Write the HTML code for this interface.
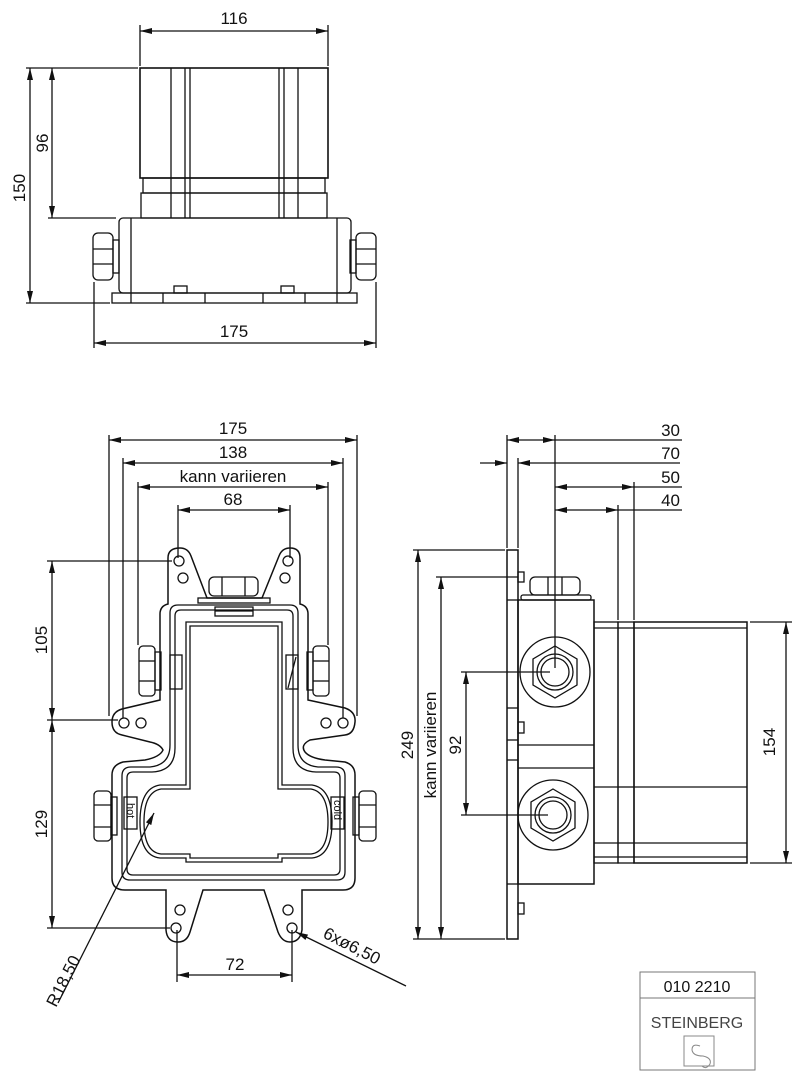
<!DOCTYPE html>
<html><head><meta charset="utf-8"><style>
html,body{margin:0;padding:0;background:#fff}
svg{display:block}
text{font-family:"Liberation Sans",sans-serif;font-size:17px;fill:#111}
</style></head><body>
<svg width="799" height="1080" viewBox="0 0 799 1080" xmlns="http://www.w3.org/2000/svg">
<defs>
<marker id="a" viewBox="0 0 12 6" refX="12" refY="3" markerWidth="12" markerHeight="6" orient="auto-start-reverse" markerUnits="userSpaceOnUse"><path d="M0,0 L12,3 L0,6 Z" fill="#111"/></marker>
</defs>
<g stroke="#111" stroke-width="1.3" fill="none">
<line x1="140" y1="25" x2="140" y2="66"/><line x1="328" y1="25" x2="328" y2="66"/>
<line x1="140" y1="31" x2="328" y2="31" marker-start="url(#a)" marker-end="url(#a)"/>
<line x1="26" y1="68" x2="138" y2="68"/>
<line x1="48" y1="218" x2="116" y2="218"/>
<line x1="26" y1="303" x2="110" y2="303"/>
<line x1="52" y1="68" x2="52" y2="218" marker-start="url(#a)" marker-end="url(#a)"/>
<line x1="30" y1="68" x2="30" y2="303" marker-start="url(#a)" marker-end="url(#a)"/>
<line x1="94" y1="282" x2="94" y2="348"/><line x1="376" y1="282" x2="376" y2="348"/>
<line x1="94" y1="343" x2="376" y2="343" marker-start="url(#a)" marker-end="url(#a)"/>
<rect x="140" y="68" width="188" height="110" stroke-width="1.6"/>
<line x1="171" y1="68" x2="171" y2="218"/><line x1="185" y1="68" x2="185" y2="218"/><line x1="190" y1="68" x2="190" y2="218"/>
<line x1="279" y1="68" x2="279" y2="218"/><line x1="284" y1="68" x2="284" y2="218"/><line x1="298" y1="68" x2="298" y2="218"/>
<rect x="143" y="178" width="182" height="15"/>
<rect x="141" y="193" width="186" height="25"/>
<rect x="119" y="218" width="232" height="75" rx="4"/>
<line x1="131" y1="218" x2="131" y2="293"/><line x1="337" y1="218" x2="337" y2="293"/>
<rect x="112" y="293" width="245" height="10"/>
<line x1="131" y1="293" x2="131" y2="303"/><line x1="163" y1="293" x2="163" y2="303"/><line x1="205" y1="293" x2="205" y2="303"/><line x1="263" y1="293" x2="263" y2="303"/><line x1="305" y1="293" x2="305" y2="303"/><line x1="337" y1="293" x2="337" y2="303"/>
<rect x="174" y="286" width="13" height="7"/><rect x="281" y="286" width="13" height="7"/>
<rect x="93" y="233" width="20" height="47" rx="5"/><line x1="93" y1="249" x2="113" y2="249"/><line x1="93" y1="264" x2="113" y2="264"/><rect x="113" y="240" width="6" height="33"/>
<rect x="356" y="233" width="20" height="47" rx="5"/><line x1="356" y1="249" x2="376" y2="249"/><line x1="356" y1="264" x2="376" y2="264"/><rect x="350" y="240" width="6" height="33"/>

<line x1="109" y1="435" x2="109" y2="716"/><line x1="357" y1="435" x2="357" y2="716"/>
<line x1="109" y1="440" x2="357" y2="440" marker-start="url(#a)" marker-end="url(#a)"/>
<line x1="123" y1="458" x2="123" y2="718"/><line x1="343" y1="458" x2="343" y2="718"/>
<line x1="123" y1="463" x2="343" y2="463" marker-start="url(#a)" marker-end="url(#a)"/>
<line x1="138" y1="482" x2="138" y2="645"/><line x1="328" y1="482" x2="328" y2="645"/>
<line x1="138" y1="487" x2="328" y2="487" marker-start="url(#a)" marker-end="url(#a)"/>
<line x1="178" y1="505" x2="178" y2="558"/><line x1="290" y1="505" x2="290" y2="558"/>
<line x1="178" y1="510" x2="290" y2="510" marker-start="url(#a)" marker-end="url(#a)"/>
<line x1="47" y1="561" x2="172" y2="561"/><line x1="47" y1="720" x2="118" y2="720"/><line x1="47" y1="928" x2="170" y2="928"/>
<line x1="52" y1="561" x2="52" y2="720" marker-start="url(#a)" marker-end="url(#a)"/>
<line x1="52" y1="720" x2="52" y2="928" marker-start="url(#a)" marker-end="url(#a)"/>
<line x1="177" y1="930" x2="177" y2="982"/><line x1="292" y1="930" x2="292" y2="982"/>
<line x1="177" y1="975" x2="292" y2="975" marker-start="url(#a)" marker-end="url(#a)"/>
<line x1="58" y1="1003" x2="154" y2="813" marker-end="url(#a)"/>
<line x1="406" y1="986" x2="296" y2="932" marker-end="url(#a)"/>
<path stroke-width="1.5" d="M168,604 L168,558 Q168,548 180,548 Q188,548 191,556 L207,598 L262,598 L279,556 Q282,548 290,548 Q300,548 300,558 L300,604 Q308,606 308,614 L308,700 L345,708 Q356,712 355,722 Q354,734 345,735 L310,740 Q300,745 305,752 Q310,758 325,760 L345,762 Q355,765 355,775 L355,878 Q355,890 343,890 L302,890 L302,930 Q300,942 290,942 Q282,942 278,932 L264,890 L203,890 L190,932 Q187,942 178,942 Q167,942 166,930 L166,890 L125,890 Q112,890 112,878 L112,775 Q112,765 123,762 L145,760 Q160,757 163,750 Q160,744 150,742 L122,735 Q112,733 112,722 Q112,712 122,709 L160,700 L160,614 Q160,606 168,604 Z"/>
<path d="M178,605 L290,605 Q298,605 298,613 L298,745 Q298,765 318,767 L336,767 Q345,767 345,776 L345,872 Q345,880 337,880 L130,880 Q122,880 122,872 L122,776 Q122,767 131,767 L150,767 Q170,765 170,745 L170,613 Q170,605 178,605 Z"/>
<path d="M181,610 L287,610 Q293,610 293,616 L293,748 Q293,771 316,772 L334,772 Q340,772 340,778 L340,869 Q340,875 334,875 L133,875 Q127,875 127,869 L127,778 Q127,772 133,772 L152,772 Q175,771 175,748 L175,616 Q175,610 181,610 Z"/>
<path d="M186,622 L282,622 L282,785 L312,785 Q332,788 332,822 Q332,856 312,858 L282,858 L282,862 L186,862 L186,858 L160,858 Q140,856 140,822 Q140,788 160,785 L186,785 Z"/>
<path d="M190,626 L278,626 L278,789 L311,789 Q328,792 328,822 Q328,852 311,854 L278,854 L278,858 L190,858 L190,854 L161,854 Q144,852 144,822 Q144,792 161,789 L190,789 Z"/>
<circle cx="179" cy="561" r="5"/><circle cx="183" cy="578" r="5"/><circle cx="288" cy="561" r="5"/><circle cx="285" cy="578" r="5"/>
<circle cx="124" cy="723" r="5"/><circle cx="141" cy="723" r="5"/><circle cx="326" cy="723" r="5"/><circle cx="343" cy="723" r="5"/>
<circle cx="180" cy="910" r="5"/><circle cx="176" cy="928" r="5"/><circle cx="288" cy="910" r="5"/><circle cx="292" cy="928" r="5"/>
<rect x="209" y="577" width="49" height="19" rx="5"/><line x1="222" y1="577" x2="222" y2="596"/><line x1="245" y1="577" x2="245" y2="596"/>
<rect x="198" y="598" width="72" height="5"/>
<rect x="215" y="607" width="38" height="9"/><line x1="215" y1="611" x2="253" y2="611"/>
<rect x="139" y="646" width="16" height="50" rx="4"/><line x1="139" y1="661" x2="155" y2="661"/><line x1="139" y1="681" x2="155" y2="681"/><rect x="155" y="652" width="6" height="38"/>
<rect x="313" y="646" width="16" height="50" rx="4"/><line x1="313" y1="661" x2="329" y2="661"/><line x1="313" y1="681" x2="329" y2="681"/><rect x="307" y="652" width="6" height="38"/>
<rect x="170" y="655" width="12" height="34"/><rect x="286" y="655" width="12" height="34"/><line x1="288" y1="688" x2="296" y2="657"/>
<rect x="94" y="791" width="17" height="50" rx="4"/><line x1="94" y1="805" x2="111" y2="805"/><line x1="94" y1="827" x2="111" y2="827"/><rect x="111" y="797" width="6" height="38"/>
<rect x="359" y="791" width="17" height="50" rx="4"/><line x1="359" y1="805" x2="376" y2="805"/><line x1="359" y1="827" x2="376" y2="827"/><rect x="353" y="797" width="6" height="38"/>
<rect x="124" y="797" width="13" height="32"/><rect x="331" y="797" width="13" height="32"/>

<line x1="507" y1="435" x2="507" y2="548"/><line x1="518" y1="458" x2="518" y2="548"/><line x1="555" y1="435" x2="555" y2="668"/>
<line x1="618" y1="505" x2="618" y2="620"/><line x1="634" y1="482" x2="634" y2="620"/>
<line x1="507" y1="440" x2="555" y2="440" marker-start="url(#a)" marker-end="url(#a)"/><line x1="555" y1="440" x2="682" y2="440"/>
<line x1="480" y1="463" x2="507" y2="463" marker-end="url(#a)"/><line x1="545" y1="463" x2="518" y2="463" marker-end="url(#a)"/><line x1="545" y1="463" x2="680" y2="463"/>
<line x1="555" y1="487" x2="634" y2="487" marker-start="url(#a)" marker-end="url(#a)"/><line x1="634" y1="487" x2="682" y2="487"/>
<line x1="555" y1="510" x2="618" y2="510" marker-start="url(#a)" marker-end="url(#a)"/><line x1="618" y1="510" x2="682" y2="510"/>
<line x1="413" y1="550" x2="505" y2="550"/><line x1="413" y1="939" x2="505" y2="939"/>
<line x1="418" y1="550" x2="418" y2="939" marker-start="url(#a)" marker-end="url(#a)"/>
<line x1="436" y1="577" x2="518" y2="577"/>
<line x1="441" y1="577" x2="441" y2="939" marker-start="url(#a)" marker-end="url(#a)"/>
<line x1="461" y1="672" x2="550" y2="672"/><line x1="461" y1="815" x2="548" y2="815"/>
<line x1="466" y1="672" x2="466" y2="815" marker-start="url(#a)" marker-end="url(#a)"/>
<line x1="750" y1="622" x2="792" y2="622"/><line x1="750" y1="863" x2="792" y2="863"/>
<line x1="786" y1="622" x2="786" y2="863" marker-start="url(#a)" marker-end="url(#a)"/>
<rect x="507" y="550" width="11" height="389" stroke-width="1.5"/>
<line x1="507" y1="600" x2="518" y2="600"/><line x1="507" y1="884" x2="518" y2="884"/><line x1="507" y1="708" x2="518" y2="708"/><line x1="507" y1="740" x2="518" y2="740"/><line x1="507" y1="760" x2="518" y2="760"/>
<rect x="518" y="572" width="6" height="10"/><rect x="518" y="722" width="6" height="11"/><rect x="518" y="903" width="6" height="11"/>
<rect x="518" y="600" width="76" height="284" stroke-width="1.5"/>
<line x1="518" y1="745" x2="594" y2="745"/><line x1="518" y1="768" x2="594" y2="768"/>
<rect x="521" y="595" width="70" height="5" rx="2"/>
<rect x="530" y="577" width="50" height="18" rx="5"/><line x1="548" y1="577" x2="548" y2="595"/><line x1="562" y1="577" x2="562" y2="595"/>
<circle cx="555" cy="672" r="35"/><polygon points="555,646 577,659 577,685 555,698 533,685 533,659"/><circle cx="555" cy="672" r="18"/><circle cx="555" cy="672" r="14"/>
<circle cx="553" cy="815" r="35"/><polygon points="553,789 575,802 575,828 553,841 531,828 531,802"/><circle cx="553" cy="815" r="18"/><circle cx="553" cy="815" r="14"/>
<rect x="594" y="622" width="24" height="241"/><line x1="594" y1="628" x2="618" y2="628"/><line x1="594" y1="787" x2="618" y2="787"/><line x1="594" y1="843" x2="618" y2="843"/><line x1="594" y1="857" x2="618" y2="857"/>
<rect x="618" y="622" width="16" height="241"/><line x1="618" y1="628" x2="634" y2="628"/><line x1="618" y1="787" x2="634" y2="787"/><line x1="618" y1="843" x2="634" y2="843"/><line x1="618" y1="857" x2="634" y2="857"/>
<rect x="634" y="622" width="113" height="241" stroke-width="1.5"/><line x1="634" y1="628" x2="747" y2="628"/><line x1="634" y1="787" x2="747" y2="787"/><line x1="634" y1="843" x2="747" y2="843"/><line x1="634" y1="857" x2="747" y2="857"/>

<rect x="640" y="972" width="115" height="98" stroke="#777" stroke-width="1"/>
<line x1="640" y1="998" x2="755" y2="998" stroke="#777" stroke-width="1"/>
<rect x="684" y="1036" width="30" height="30" stroke="#888" stroke-width="1"/>
<path d="M700,1046 Q692,1043 692,1050 Q693,1056 703,1056 Q712,1058 710,1064 Q706,1070 702,1066" stroke="#888" stroke-width="1"/>
</g>
<text x="234" y="24" text-anchor="middle">116</text>
<text transform="translate(48,143) rotate(-90)" text-anchor="middle">96</text>
<text transform="translate(25,188) rotate(-90)" text-anchor="middle">150</text>
<text x="234" y="337" text-anchor="middle">175</text>
<text x="233" y="434" text-anchor="middle">175</text>
<text x="233" y="458" text-anchor="middle">138</text>
<text x="233" y="482" text-anchor="middle">kann variieren</text>
<text x="233" y="505" text-anchor="middle">68</text>
<text transform="translate(47,640) rotate(-90)" text-anchor="middle">105</text>
<text transform="translate(47,824) rotate(-90)" text-anchor="middle">129</text>
<text x="235" y="970" text-anchor="middle">72</text>
<text transform="translate(56,1008) rotate(-63)">R18,50</text>
<text transform="translate(322,937) rotate(27)">6xø6,50</text>
<text transform="translate(127,803) rotate(90)" style="font-size:11px">hot</text>
<text transform="translate(334,800) rotate(90)" style="font-size:11px">cold</text>
<text x="680" y="436" text-anchor="end">30</text>
<text x="680" y="459" text-anchor="end">70</text>
<text x="680" y="483" text-anchor="end">50</text>
<text x="680" y="506" text-anchor="end">40</text>
<text transform="translate(413,745) rotate(-90)" text-anchor="middle">249</text>
<text transform="translate(436,745) rotate(-90)" text-anchor="middle">kann variieren</text>
<text transform="translate(461,745) rotate(-90)" text-anchor="middle">92</text>
<text transform="translate(775,742) rotate(-90)" text-anchor="middle">154</text>
<text x="697" y="992" text-anchor="middle" style="font-size:16px">010 2210</text>
<text x="697" y="1028" text-anchor="middle" style="font-size:16px;fill:#444">STEINBERG</text>
</svg>
</body></html>
